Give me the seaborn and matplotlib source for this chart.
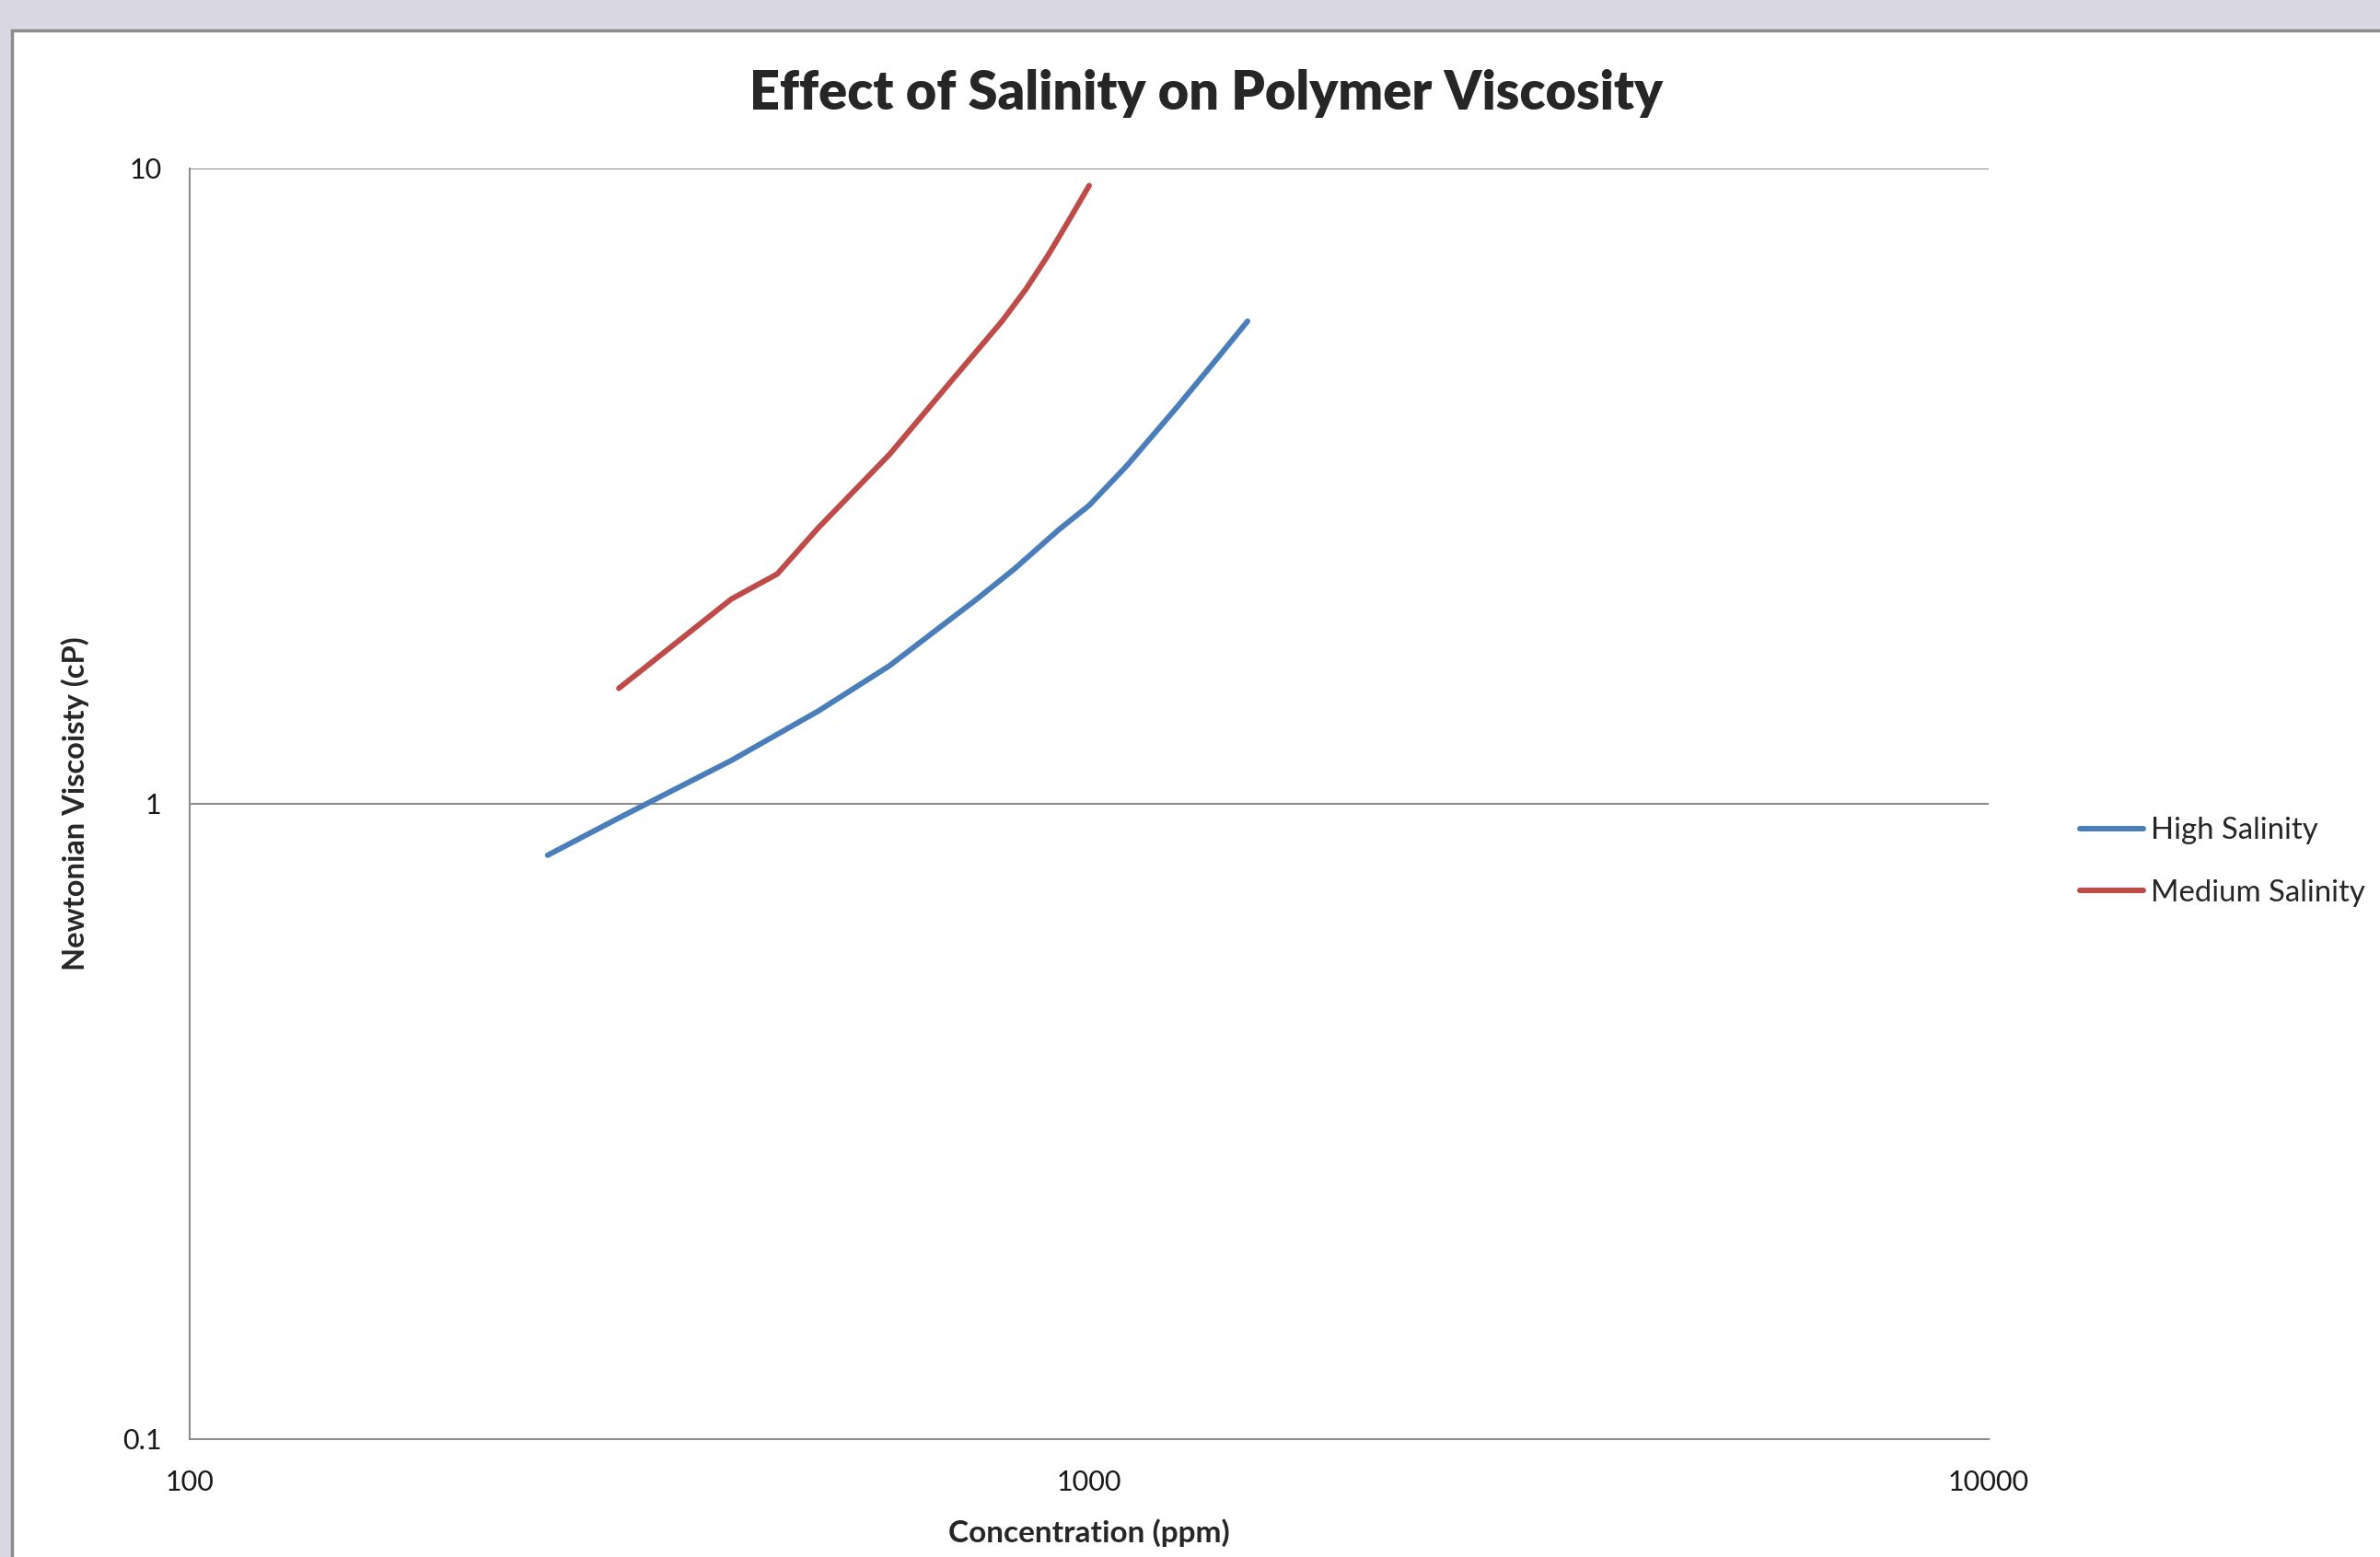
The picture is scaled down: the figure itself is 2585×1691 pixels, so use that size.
import numpy as np
import pandas as pd
import matplotlib
matplotlib.use('Agg')
import matplotlib.pyplot as plt
from matplotlib.patches import Rectangle
import seaborn as sns

# data
high_conc = [250, 300, 400, 500, 600, 750, 825, 925, 1000, 1100, 1250, 1400, 1500]
high_visc = [0.83, 0.95, 1.17, 1.40, 1.65, 2.10, 2.34, 2.70, 2.95, 3.40, 4.20, 5.10, 5.75]

med_conc = [300, 400, 450, 500, 600, 700, 800, 850, 900, 950, 1000]
med_visc = [1.52, 2.10, 2.30, 2.72, 3.55, 4.60, 5.75, 6.45, 7.30, 8.30, 9.40]

series_names = ['High Salinity', 'Medium Salinity']
series_colors = ['#4A7EBB', '#BE4B48']

x_ticks = [100, 1000, 10000]
x_ticklabels = ['100', '1000', '10000']
y_ticks = [0.1, 1, 10]
y_ticklabels = ['0.1', '1', '10']

df = pd.concat([
    pd.DataFrame({'conc': high_conc, 'visc': high_visc, 'series': series_names[0]}),
    pd.DataFrame({'conc': med_conc, 'visc': med_visc, 'series': series_names[1]}),
])

sns.set_style('white')
plt.rcParams['font.family'] = ['Lato', 'DejaVu Sans']

W, H = 2585, 1691
fig = plt.figure(figsize=(W / 100, H / 100), dpi=100, facecolor='#D9D8E2')

# white chart area with gray border
fig.patches.append(Rectangle((13 / W, -0.02), 1.1, 1 - 33 / H + 0.02,
                             transform=fig.transFigure, facecolor='white',
                             edgecolor='#8C8C8C', linewidth=2.5, zorder=-1))

ax = fig.add_axes([206 / W, 1 - 1563 / H, (2160 - 206) / W, (1563 - 183) / H])
ax.set_facecolor('none')

sns.lineplot(data=df, x='conc', y='visc', hue='series', palette=series_colors,
             hue_order=series_names, linewidth=4.3, sort=False, ax=ax,
             legend=False, solid_capstyle='round', solid_joinstyle='round')

ax.set_xscale('log')
ax.set_yscale('log')
ax.set_xlim(100, 10000)
ax.set_ylim(0.1, 10)
ax.set_xticks(x_ticks)
ax.set_xticklabels(x_ticklabels)
ax.set_yticks(y_ticks)
ax.set_yticklabels(y_ticklabels)
ax.minorticks_off()
ax.tick_params(axis='x', length=0, pad=24, labelsize=22, colors='#1a1a1a')
ax.tick_params(axis='y', length=0, pad=22, labelsize=22, colors='#1a1a1a')

ax.yaxis.grid(True, color='#8C8C8C', linewidth=1.5)
ax.xaxis.grid(False)
for side in ['top', 'right']:
    ax.spines[side].set_visible(False)
for side in ['left', 'bottom']:
    ax.spines[side].set_color('#8C8C8C')
    ax.spines[side].set_linewidth(1.5)

ax.set_xlabel('')
ax.set_ylabel('')
fig.text(0.5 * (206 + 2160) / W, 1 - 1665 / H, 'Concentration (ppm)',
         ha='center', va='center', fontsize=24, fontweight='bold')
fig.text(82 / W, 1 - 873 / H, 'Newtonian Viscoisty (cP)', rotation=90,
         ha='center', va='center', fontsize=23.5, fontweight='bold')
fig.text(1310 / W, 1 - 102 / H, 'Effect of Salinity on Polymer Viscosity',
         ha='center', va='center', fontsize=41.5, fontweight='heavy')

handles = [plt.Line2D([], [], color=c, linewidth=4.3, solid_capstyle='round')
           for c in series_colors]
fig.legend(handles, series_names, loc='center left',
           bbox_to_anchor=(2259 / W, 1 - 936 / H), frameon=False,
           fontsize=23.7, handlelength=2.1, handletextpad=0.25,
           labelspacing=1.15, borderpad=0, borderaxespad=0)

fig.savefig('out.png', dpi=100, facecolor=fig.get_facecolor())
